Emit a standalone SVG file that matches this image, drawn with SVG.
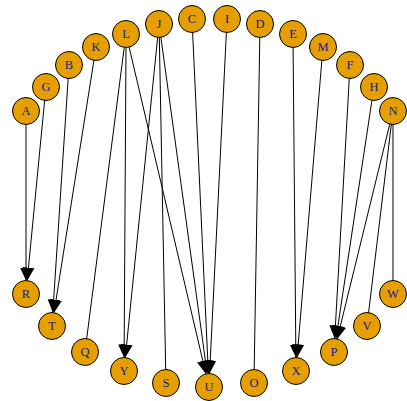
<svg xmlns="http://www.w3.org/2000/svg" width="407" height="401" viewBox="0 0 407 401">
  <style>
    .edge { stroke: #000; stroke-width: 1; fill: none; }
    .arrow { marker-end: url(#head); }
    .node circle { fill: #E69F00; stroke: #000; stroke-width: 1; }
    .node text { font-family: "Liberation Serif", "Times New Roman", serif; font-size: 12.5px; fill: #1a1a8c; text-anchor: middle; dominant-baseline: central; }
  </style>
  <defs>
    <marker id="head" markerUnits="userSpaceOnUse" markerWidth="15" markerHeight="14" viewBox="0 -7 15 14" refX="13" refY="0" orient="auto">
      <path d="M0,-6 L13,0 L0,6 z" fill="#000"/>
    </marker>
  </defs>
  <rect width="407" height="401" fill="#fff"/>

  <g id="connectors">
    <line class="edge arrow" x1="26" y1="124" x2="26" y2="280.5"/>
    <line class="edge arrow" x1="44.7" y1="100" x2="27.2" y2="280.6"/>
    <line class="edge arrow" x1="68.2" y1="78" x2="52.8" y2="312.5"/>
    <line class="edge arrow" x1="94" y1="59.8" x2="54" y2="312.7"/>
    <line class="edge" x1="124.3" y1="46.9" x2="86.7" y2="338.6"/>
    <line class="edge arrow" x1="126" y1="47" x2="124.1" y2="357.5"/>
    <line class="edge arrow" x1="157.7" y1="36.9" x2="125.3" y2="357.6"/>
    <line class="edge arrow" x1="129" y1="46.7" x2="205.9" y2="373.8"/>
    <line class="edge arrow" x1="160.8" y1="36.9" x2="207.2" y2="373.6"/>
    <line class="edge arrow" x1="192.6" y1="32" x2="208.4" y2="373.5"/>
    <line class="edge arrow" x1="226.4" y1="32" x2="209.6" y2="373.5"/>
    <line class="edge" x1="159.3" y1="37" x2="165.7" y2="369.5"/>
    <line class="edge" x1="259.8" y1="37" x2="254.2" y2="369.5"/>
    <line class="edge arrow" x1="293.1" y1="47" x2="295.9" y2="357.5"/>
    <line class="edge arrow" x1="321.9" y1="60" x2="297.1" y2="357.5"/>
    <line class="edge arrow" x1="349.3" y1="78" x2="334.7" y2="338.5"/>
    <line class="edge arrow" x1="372" y1="99.9" x2="336" y2="338.6"/>
    <line class="edge arrow" x1="389.9" y1="123.6" x2="337.2" y2="338.9"/>
    <line class="edge" x1="391.4" y1="123.9" x2="368.6" y2="312.6"/>
    <line class="edge" x1="393" y1="124" x2="393" y2="280.5"/>
  </g>

  <g id="node-A" class="node"><circle cx="26" cy="111" r="13.5"/><text x="26" y="111">A</text></g>
  <g id="node-G" class="node"><circle cx="46" cy="87" r="13.5"/><text x="46" y="87">G</text></g>
  <g id="node-B" class="node"><circle cx="69" cy="65" r="13.5"/><text x="69" y="65">B</text></g>
  <g id="node-K" class="node"><circle cx="96" cy="47" r="13.5"/><text x="96" y="47">K</text></g>
  <g id="node-L" class="node"><circle cx="126" cy="34" r="13.5"/><text x="126" y="34">L</text></g>
  <g id="node-J" class="node"><circle cx="159" cy="24" r="13.5"/><text x="159" y="24">J</text></g>
  <g id="node-C" class="node"><circle cx="192" cy="19" r="13.5"/><text x="192" y="19">C</text></g>
  <g id="node-I" class="node"><circle cx="227" cy="19" r="13.5"/><text x="227" y="19">I</text></g>
  <g id="node-D" class="node"><circle cx="260" cy="24" r="13.5"/><text x="260" y="24">D</text></g>
  <g id="node-E" class="node"><circle cx="293" cy="34" r="13.5"/><text x="293" y="34">E</text></g>
  <g id="node-M" class="node"><circle cx="323" cy="47" r="13.5"/><text x="323" y="47">M</text></g>
  <g id="node-F" class="node"><circle cx="350" cy="65" r="13.5"/><text x="350" y="65">F</text></g>
  <g id="node-H" class="node"><circle cx="374" cy="87" r="13.5"/><text x="374" y="87">H</text></g>
  <g id="node-N" class="node"><circle cx="393" cy="111" r="13.5"/><text x="393" y="111">N</text></g>
  <g id="node-R" class="node"><circle cx="26" cy="294" r="13.5"/><text x="26" y="294">R</text></g>
  <g id="node-T" class="node"><circle cx="52" cy="326" r="13.5"/><text x="52" y="326">T</text></g>
  <g id="node-Q" class="node"><circle cx="85" cy="352" r="13.5"/><text x="85" y="352">Q</text></g>
  <g id="node-Y" class="node"><circle cx="124" cy="371" r="13.5"/><text x="124" y="371">Y</text></g>
  <g id="node-S" class="node"><circle cx="166" cy="383" r="13.5"/><text x="166" y="383">S</text></g>
  <g id="node-U" class="node"><circle cx="209" cy="387" r="13.5"/><text x="209" y="387">U</text></g>
  <g id="node-O" class="node"><circle cx="254" cy="383" r="13.5"/><text x="254" y="383">O</text></g>
  <g id="node-X" class="node"><circle cx="296" cy="371" r="13.5"/><text x="296" y="371">X</text></g>
  <g id="node-P" class="node"><circle cx="334" cy="352" r="13.5"/><text x="334" y="352">P</text></g>
  <g id="node-V" class="node"><circle cx="367" cy="326" r="13.5"/><text x="367" y="326">V</text></g>
  <g id="node-W" class="node"><circle cx="393" cy="294" r="13.5"/><text x="393" y="294">W</text></g>
</svg>
